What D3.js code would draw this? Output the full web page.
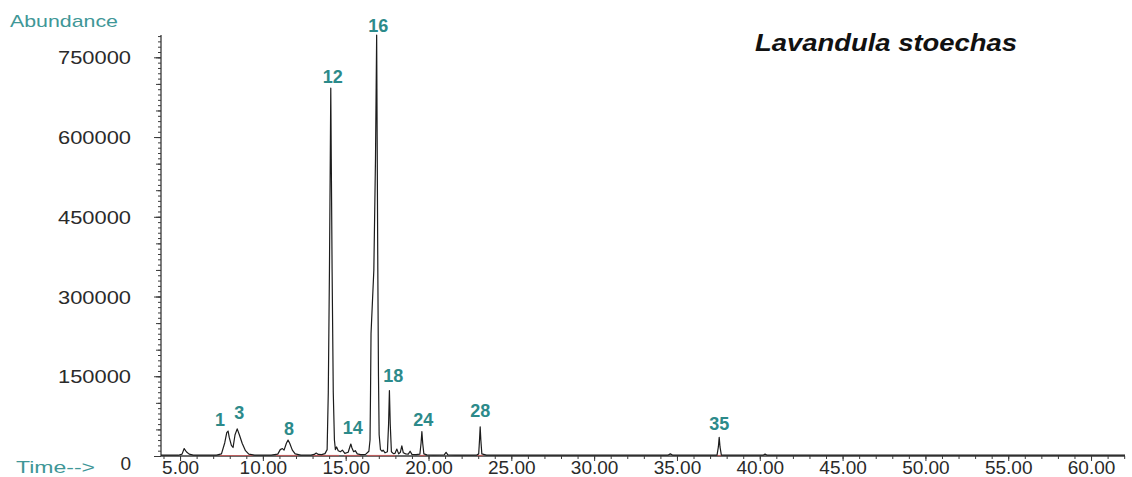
<!DOCTYPE html>
<html>
<head>
<meta charset="utf-8">
<script src="https://cdn.jsdelivr.net/npm/d3@7"></script>
<style>
  html, body { margin: 0; padding: 0; background: #fff; }
  svg { display: block; }
</style>
</head>
<body>
<svg id="chart" width="1132" height="477"></svg>
<script>
// ---------- data ----------
const traceTimes = [3.85,4.9,5.12,5.25,5.38,5.55,5.8,6.5,7.2,7.5,7.7,7.82,7.9,7.97,8.1,8.2,8.32,8.45,8.58,8.75,8.95,9.15,9.5,10.5,10.9,11.05,11.18,11.28,11.42,11.52,11.62,11.78,11.95,12.3,12.9,13.1,13.22,13.35,13.55,13.75,13.88,13.95,14.02,14.07,14.1,14.13,14.18,14.25,14.32,14.38,14.45,14.55,14.68,14.8,14.95,15.15,15.25,15.31,15.38,15.48,15.58,15.7,15.9,16.2,16.4,16.47,16.5,16.53,16.7,16.8,16.87,16.9,16.94,16.98,17.02,17.1,17.2,17.26,17.38,17.52,17.59,17.64,17.69,17.76,17.88,17.98,18.09,18.2,18.3,18.39,18.48,18.62,18.78,18.89,19.0,19.25,19.48,19.55,19.6,19.65,19.72,19.9,20.3,20.95,21.06,21.17,21.6,22.9,23.03,23.08,23.12,23.16,23.22,23.5,25.5,30.0,34.45,34.6,34.75,37.42,37.5,37.55,37.6,37.68,40.2,40.32,40.45,62.05];
const traceAbundance = [1500,1500,3500,14000,8000,3500,1800,1500,1800,4000,25000,44000,47000,35000,20000,16000,40000,51000,40000,24000,10000,3500,1500,1800,3500,12000,14000,11000,24000,30000,24000,11000,4000,1800,1800,3000,5500,3000,2500,4500,12000,120000,350000,560000,692000,560000,350000,120000,30000,12000,17000,10000,8000,11000,5000,7000,17000,22500,15000,8000,10000,4000,2500,3000,9000,30000,120000,230000,350000,560000,792000,600000,350000,150000,40000,12000,9000,11000,6000,8000,60000,123000,60000,8000,4500,5000,13000,4000,7000,19000,6000,4000,3500,9000,3000,2500,3500,24000,46000,24000,4000,2000,1800,2200,7000,2200,1600,1600,4000,30000,55000,30000,4000,1600,1500,1500,1500,4000,1500,1800,17000,35000,17000,1800,1500,3500,1500,1500];

// integration baselines (red) : start / end times
const baseStart = [7.4, 10.8, 13.0, 14.9, 16.3, 19.45, 22.95, 37.4];
const baseEnd   = [9.4, 12.1, 14.6, 15.9, 18.0, 19.8, 23.3, 37.7];

// peak labels: number, anchor time, anchor abundance (label centre)
const peakIds        = ["1","3","8","12","14","16","18","24","28","35"];
const peakLabelTimes = [7.42, 8.58, 11.58, 14.22, 15.43, 16.97, 17.88, 19.69, 23.12, 37.55];
const peakLabelAbund = [67700, 80900, 50800, 714800, 52700, 810700, 150500, 67700, 85200, 60200];

const xTickValues = [5,10,15,20,25,30,35,40,45,50,55,60];
const yTickValues = [0,150000,300000,450000,600000,750000];

const xDomain = [3.85, 62.05];
const yDomain = [0, 792000];

// ---------- drawing ----------
const svg = d3.select("#chart");
const x = d3.scaleLinear().domain(xDomain).range([161, 1125]);
const y = d3.scaleLinear().domain(yDomain).range([456, 35]);

const axisColor = "#3a3a3a";
const teal = "#2c8a8a";
const tealLight = "#3f9797";
const font = "Liberation Sans, Arial, sans-serif";

// y axis minor / medium ticks
const yMinor = d3.range(0, 790001, 10000);
const yMed = d3.range(0, 790001, 50000);
svg.append("g").attr("transform","translate(161,0)")
  .call(d3.axisLeft(y).tickValues(yMinor).tickSize(3).tickFormat(""))
  .call(g => g.select(".domain").remove())
  .call(g => g.selectAll("line").attr("stroke", axisColor).attr("stroke-width",1));
svg.append("g").attr("transform","translate(161,0)")
  .call(d3.axisLeft(y).tickValues(yMed).tickSize(5).tickFormat(""))
  .call(g => g.select(".domain").remove())
  .call(g => g.selectAll("line").attr("stroke", axisColor).attr("stroke-width",1));
// y axis major + labels
const yAx = svg.append("g").attr("transform","translate(161,0)")
  .call(d3.axisLeft(y).tickValues(yTickValues).tickSize(7).tickPadding(23).tickFormat(d3.format("d")));
yAx.select(".domain").remove();
yAx.selectAll("line").attr("stroke", axisColor);
yAx.selectAll("text")
  .attr("fill", "#2a2a2a")
  .attr("font-family", font)
  .attr("font-size", 19)
  .attr("dy", d => d === 0 ? "0.72em" : "0.35em")
  .attr("x", d => d === 0 ? -30 : -30)
  .each(function(d){ if (d !== 0) d3.select(this).attr("textLength", 73).attr("lengthAdjust","spacingAndGlyphs"); });

// y axis line
svg.append("line").attr("x1",161).attr("x2",161).attr("y1",y(yDomain[1])).attr("y2",y(0))
  .attr("stroke", axisColor).attr("stroke-width",1.3);

// x axis minor ticks
svg.append("g").attr("transform",`translate(0,${y(0)})`)
  .call(d3.axisBottom(x).tickValues(d3.range(4, 63, 1)).tickSize(3).tickFormat(""))
  .call(g => g.select(".domain").remove())
  .call(g => g.selectAll("line").attr("stroke", axisColor));
const xAx = svg.append("g").attr("transform",`translate(0,${y(0)})`)
  .call(d3.axisBottom(x).tickValues(xTickValues).tickSize(5).tickPadding(0).tickFormat(d3.format(".2f")));
xAx.select(".domain").remove();
xAx.selectAll("line").attr("stroke", axisColor);
xAx.selectAll("text")
  .attr("fill","#2a2a2a")
  .attr("font-family", font)
  .attr("font-size",19)
  .attr("dy","0.66em");

// x axis line
svg.append("line").attr("x1",x(xDomain[0])).attr("x2",x(xDomain[1])).attr("y1",y(0)).attr("y2",y(0))
  .attr("stroke", axisColor).attr("stroke-width",1.3);

// red integration baselines
svg.append("g").selectAll("line").data(baseStart).join("line")
  .attr("x1", d => x(d)).attr("x2", (d,i) => x(baseEnd[i]))
  .attr("y1", y(0) - 0.5).attr("y2", y(0) - 0.5)
  .attr("stroke", "#d05a5a").attr("stroke-width", 1.2).attr("opacity", 0.8);

// trace
const pts = traceTimes.map((t,i) => [t, traceAbundance[i]]);
svg.append("path").datum(pts)
  .attr("fill","none").attr("stroke","#1c1c1c").attr("stroke-width",1.2).attr("stroke-linejoin","round")
  .attr("d", d3.line().x(d => x(d[0])).y(d => y(d[1])));

// peak labels
svg.append("g").selectAll("text").data(peakIds).join("text")
  .attr("x", (d,i) => x(peakLabelTimes[i]))
  .attr("y", (d,i) => y(peakLabelAbund[i]))
  .attr("dy","0.36em")
  .attr("text-anchor","middle")
  .attr("font-family", font)
  .attr("font-weight","bold")
  .attr("font-size",18)
  .attr("fill", teal)
  .text(d => d);

// axis titles
svg.append("text").attr("x",10).attr("y",21).attr("dy","0.35em")
  .attr("font-family", font).attr("font-size",17)
  .attr("fill", tealLight).attr("textLength",108).attr("lengthAdjust","spacingAndGlyphs")
  .text("Abundance");
svg.append("text").attr("x",16).attr("y",467).attr("dy","0.35em")
  .attr("font-family", font).attr("font-size",17)
  .attr("fill", tealLight).attr("textLength",79).attr("lengthAdjust","spacingAndGlyphs")
  .text("Time-->");

// title
svg.append("text").attr("x",755).attr("y",43).attr("dy","0.35em")
  .attr("font-family", font).attr("font-size",23)
  .attr("font-weight","bold").attr("font-style","italic").attr("fill","#111")
  .attr("textLength",262).attr("lengthAdjust","spacingAndGlyphs")
  .text("Lavandula stoechas");
</script>
</body>
</html>
